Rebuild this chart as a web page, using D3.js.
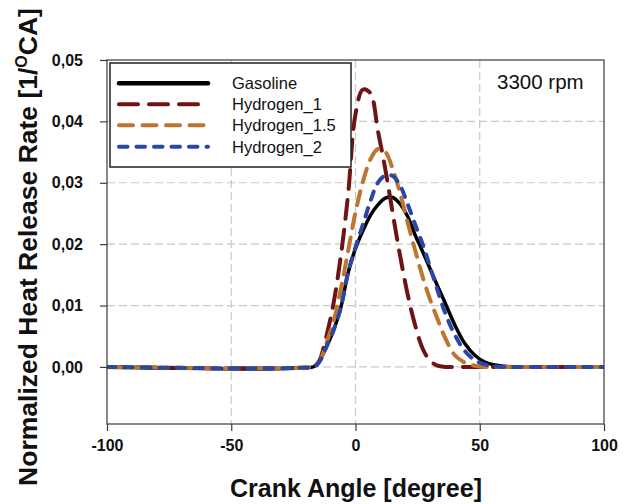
<!DOCTYPE html>
<html><head><meta charset="utf-8">
<script src="https://cdn.jsdelivr.net/npm/d3@7"></script>
<style>
body{margin:0;background:#fff;}
svg{display:block;font-family:Arial,"Liberation Sans",sans-serif;}
</style></head>
<body>
<svg id="chart" width="629" height="504"></svg>
<script>
const angles    = [-100, -17, -16, -15, -14, -12, -9, -6, -3, 0, 3, 6, 9, 12, 15, 18, 21, 24, 27, 30, 33, 36, 40, 44, 48, 52, 56, 60, 65, 100];
const gasoline  = [0, 0, 0.0003, 0.0007, 0.0013, 0.003, 0.0058, 0.0095, 0.0153, 0.0193, 0.0222, 0.0247, 0.0264, 0.0275, 0.0276, 0.0265, 0.0245, 0.0215, 0.0188, 0.016, 0.0132, 0.0105, 0.0068, 0.0038, 0.0019, 0.0008, 0.0003, 0.0001, 0, 0];
const hydrogen1 = [0, 0, 0.0002, 0.0007, 0.0015, 0.0045, 0.010, 0.0178, 0.028, 0.0412, 0.0452, 0.0446, 0.0385, 0.0322, 0.025, 0.018, 0.0118, 0.0068, 0.003, 0.001, 0.0002, 0, 0, 0, 0, 0, 0, 0, 0, 0];
const hydrogen15= [0, 0, 0.0002, 0.0006, 0.0012, 0.0035, 0.0072, 0.0125, 0.0188, 0.0252, 0.0302, 0.0338, 0.0355, 0.0350, 0.0322, 0.0282, 0.0235, 0.019, 0.0147, 0.011, 0.0078, 0.0048, 0.0019, 0.0007, 0.0002, 0, 0, 0, 0, 0];
const hydrogen2 = [0, 0, 0.0002, 0.0006, 0.0012, 0.003, 0.0058, 0.0095, 0.0153, 0.0195, 0.0232, 0.027, 0.030, 0.0312, 0.0311, 0.0295, 0.0265, 0.0232, 0.020, 0.0163, 0.0125, 0.0089, 0.0052, 0.0026, 0.0011, 0.0004, 0.0001, 0, 0, 0];
const seriesNames = ["Gasoline", "Hydrogen_1", "Hydrogen_1.5", "Hydrogen_2"];
const xTicks = [-100, -50, 0, 50, 100];
const yTicks = [0, 0.01, 0.02, 0.03, 0.04, 0.05];

const svg = d3.select("#chart");
const L = 107, R = 604, T = 60, B = 424;
const x = d3.scaleLinear().domain([-100, 100]).range([L, R]);
const y = d3.scaleLinear().domain([-0.0093, 0.05]).range([B, T]);

// grid
const grid = svg.append("g").attr("stroke", "#c9c9c9").attr("stroke-width", 1.2).attr("stroke-dasharray", "8,4");
[-50, 0, 50].forEach(v => grid.append("line").attr("x1", x(v)).attr("x2", x(v)).attr("y1", T).attr("y2", B));
[0, 0.01, 0.02, 0.03, 0.04].forEach(v => grid.append("line").attr("x1", L).attr("x2", R).attr("y1", y(v)).attr("y2", y(v)));

// clip
svg.append("clipPath").attr("id", "clip").append("rect").attr("x", L).attr("y", T).attr("width", R - L).attr("height", B - T);

const styles = [
  {data: gasoline,   color: "#000000", dash: null,      w: 3.5},
  {data: hydrogen1,  color: "#6e1414", dash: "19,11",   w: 4},
  {data: hydrogen15, color: "#bd7530", dash: "14,9.5",  w: 4},
  {data: hydrogen2,  color: "#2b47a3", dash: "8.5,9",   w: 4}
];
const line = d3.line().x(d => x(d[0])).y(d => Math.min(y(0), y(d[1]))).curve(d3.curveCatmullRom.alpha(0.5));
const plot = svg.append("g").attr("clip-path", "url(#clip)");
styles.forEach(s => {
  plot.append("path")
    .attr("d", line(angles.map((a, i) => [a, s.data[i]])))
    .attr("fill", "none").attr("stroke", s.color).attr("stroke-width", s.w)
    .attr("stroke-linecap", s.dash ? "round" : "butt").attr("stroke-linejoin", "round")
    .attr("stroke-dasharray", s.dash);
});

// frame
svg.append("rect").attr("x", L).attr("y", T).attr("width", R - L).attr("height", B - T)
  .attr("fill", "none").attr("stroke", "#3a3a3a").attr("stroke-width", 1.2);

// axes
const fmt = d => d3.format(".2f")(d).replace(".", ",");
const xAxis = svg.append("g").attr("transform", `translate(0,${B})`)
  .call(d3.axisBottom(x).tickValues(xTicks).tickSize(7).tickPadding(9).tickFormat(d => String(d)));
const yAxis = svg.append("g").attr("transform", `translate(${L},0)`)
  .call(d3.axisLeft(y).tickValues(yTicks).tickSize(7).tickPadding(17).tickFormat(fmt));
[xAxis, yAxis].forEach(a => {
  a.select(".domain").remove();
  a.selectAll("line").attr("stroke", "#3a3a3a").attr("stroke-width", 1.2);
  a.selectAll("text").attr("font-family", "Arial, 'Liberation Sans', sans-serif")
    .attr("font-size", 16).attr("font-weight", "bold").attr("fill", "#111");
});

// axis titles
svg.append("text").attr("x", 356).attr("y", 497).attr("text-anchor", "middle")
  .attr("font-size", 25).attr("font-weight", "bold").attr("fill", "#111").text("Crank Angle [degree]");
const yt = svg.append("text").attr("transform", "translate(37,247) rotate(-90)").attr("text-anchor", "middle")
  .attr("font-size", 26.5).attr("font-weight", "bold").attr("fill", "#111");
yt.append("tspan").text("Normalized Heat Release Rate [1/");
yt.append("tspan").attr("font-size", 16).attr("dy", -10).text("O");
yt.append("tspan").attr("dy", 10).text("CA]");

// legend
const lg = svg.append("g");
lg.append("rect").attr("x", 110).attr("y", 63).attr("width", 241).attr("height", 104)
  .attr("fill", "#fff").attr("stroke", "#222").attr("stroke-width", 1.5);
const rows = [83.3, 104.3, 125.3, 146.7];
styles.forEach((s, i) => {
  lg.append("line").attr("x1", 119).attr("x2", 208).attr("y1", rows[i]).attr("y2", rows[i])
    .attr("stroke", s.color).attr("stroke-width", s.dash ? 4 : 4.5)
    .attr("stroke-linecap", "round").attr("stroke-dasharray", s.dash);
  lg.append("text").attr("x", 232).attr("y", rows[i] + 6).attr("font-size", 16.5).attr("fill", "#111")
    .text(seriesNames[i]);
});

svg.append("text").attr("x", 497).attr("y", 89).attr("font-size", 20.5).attr("fill", "#111").text("3300 rpm");
</script>
</body></html>
